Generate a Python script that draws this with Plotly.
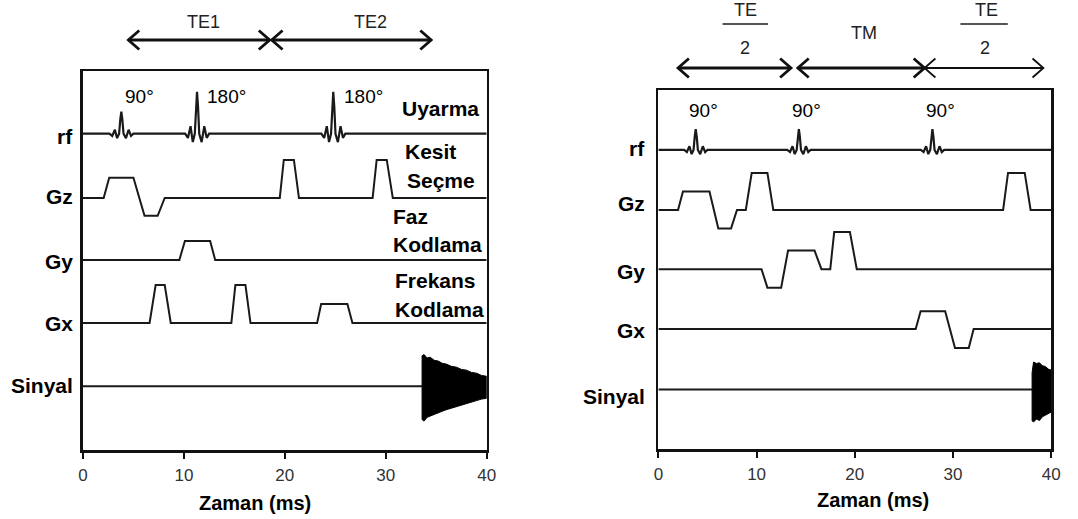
import plotly.graph_objects as go

W, H = 1078, 519

# ======================= DATA =======================
# Time axis (ms)
t_ticks = [0, 10, 20, 30, 40]

# RF pulse sample shape (time offset in ms, relative amplitude)
rf_shape_dt = [-1.18, -0.9, -0.64, -0.42, -0.22, -0.1, 0.0, 0.1, 0.22, 0.46, 0.72, 0.96, 1.2]
rf_shape_v = [0.0, -0.1, 0.18, -0.2, 0.0, 0.65, 1.0, 0.65, 0.0, -0.2, 0.18, -0.1, 0.0]

# ---- Left panel: spin echo ----
L_rf_centre = [3.8, 11.3, 24.8]
L_rf_amp = [0.58, 1.1, 1.1]
L_rf_label = ["90°", "180°", "180°"]

L_gz_t = [0, 2.05, 2.6, 5.0, 6.1, 7.4, 8.1, 19.5, 19.9, 20.9, 21.4, 28.7, 29.1, 30.1, 30.7, 40]
L_gz_a = [0, 0, 0.53, 0.53, -0.47, -0.47, 0, 0, 1.0, 1.0, 0, 0, 1.0, 1.0, 0, 0]

L_gy_t = [0, 9.55, 10.1, 12.6, 13.1, 40]
L_gy_a = [0, 0, 0.5, 0.5, 0, 0]

L_gx_t = [0, 6.6, 7.2, 8.1, 8.7, 14.7, 15.1, 16.1, 16.6, 23.2, 23.6, 26.2, 26.7, 40]
L_gx_a = [0, 0, 1.0, 1.0, 0, 0, 1.0, 1.0, 0, 0, 0.5, 0.5, 0, 0]

L_sig_t = [33.6, 33.8, 34.1, 34.4, 34.8, 35.2, 35.6, 36.0, 36.5, 37.0, 37.5, 38.0, 38.5, 39.0, 39.5, 40.0]
L_sig_up = [0.80, 0.83, 0.74, 0.76, 0.68, 0.66, 0.60, 0.58, 0.52, 0.50, 0.44, 0.42, 0.36, 0.34, 0.28, 0.26]
L_sig_lo = [0.88, 0.92, 0.82, 0.80, 0.74, 0.70, 0.66, 0.62, 0.58, 0.52, 0.50, 0.44, 0.42, 0.38, 0.34, 0.32]

L_arrows = [(4.5, 18.5), (18.7, 34.5)]
L_arrow_labels = ["TE1", "TE2"]

# ---- Right panel: stimulated echo ----
R_rf_centre = [3.8, 14.3, 27.9]
R_rf_amp = [0.56, 0.56, 0.56]
R_rf_label = ["90°", "90°", "90°"]

R_gz_t = [0, 2.0, 2.5, 5.2, 6.1, 7.4, 8.0, 8.9, 9.5, 11.1, 11.7, 35.1, 35.6, 37.3, 37.9, 40]
R_gz_a = [0, 0, 0.5, 0.5, -0.5, -0.5, 0, 0, 1.0, 1.0, 0, 0, 1.0, 1.0, 0, 0]

R_gy_t = [0, 10.5, 11.1, 12.5, 13.2, 15.9, 16.6, 17.5, 17.9, 19.5, 20.2, 40]
R_gy_a = [0, 0, -0.5, -0.5, 0.5, 0.5, 0, 0, 1.0, 1.0, 0, 0]

R_gx_t = [0, 26.2, 26.7, 29.2, 30.2, 31.6, 32.1, 40]
R_gx_a = [0, 0, 0.48, 0.48, -0.51, -0.51, 0, 0]

R_sig_t = [38.05, 38.2, 38.5, 38.8, 39.1, 39.4, 39.7, 40.0]
R_sig_up = [0.45, 0.74, 0.70, 0.72, 0.64, 0.62, 0.55, 0.52]
R_sig_lo = [0.85, 0.88, 0.80, 0.84, 0.74, 0.70, 0.66, 0.61]

R_arrows = [(2.0, 13.5), (14.2, 27.1), (27.1, 39.2)]
R_arrow_labels = ["TE/2", "TM", "TE/2"]

channel_names = ["rf", "Gz", "Gy", "Gx", "Sinyal"]

# ======================= LAYOUT CONSTANTS =======================
NORMAL = "Liberation Sans, Arial, sans-serif"
BOLD = "Liberation Sans, Arial, sans-serif"
LINE = "#1a1a1a"

# baselines of channels (in y units; 1 unit = full gradient amplitude)
L_base = {"rf": 8.32, "Gz": 6.63, "Gy": 5.0, "Gx": 3.34, "Sinyal": 1.68}
L_yrange = [0, 9.97]
R_base = {"rf": 8.08, "Gz": 6.46, "Gy": 4.86, "Gx": 3.24, "Sinyal": 1.61}
R_yrange = [0, 9.7]


def px(x):
    return x / W


def py(y):
    return (H - y) / H


def rf_path(centres, amps, base):
    xs, ys = [0.0], [base]
    for c, a in zip(centres, amps):
        for dt, v in zip(rf_shape_dt, rf_shape_v):
            xs.append(c + dt)
            ys.append(base + a * v)
    xs.append(40.0)
    ys.append(base)
    return xs, ys


fig = go.Figure()


def add_panel(xa, ya, rf_c, rf_a, gz, gy, gx, sig_t, sig_up, sig_lo, base):
    xs, ys = rf_path(rf_c, rf_a, base["rf"])
    fig.add_trace(go.Scatter(x=xs, y=ys, mode="lines", line=dict(color=LINE, width=2.2),
                             xaxis=xa, yaxis=ya, showlegend=False, hoverinfo="skip"))
    for (tt, aa), name in zip([gz, gy, gx], ["Gz", "Gy", "Gx"]):
        fig.add_trace(go.Scatter(x=tt, y=[base[name] + a for a in aa], mode="lines",
                                 line=dict(color=LINE, width=2),
                                 xaxis=xa, yaxis=ya, showlegend=False, hoverinfo="skip"))
    b = base["Sinyal"]
    fig.add_trace(go.Scatter(x=[0, sig_t[0]], y=[b, b], mode="lines",
                             line=dict(color=LINE, width=2),
                             xaxis=xa, yaxis=ya, showlegend=False, hoverinfo="skip"))
    px_ = list(sig_t) + list(reversed(sig_t))
    py_ = [b + u for u in sig_up] + [b - l for l in reversed(sig_lo)]
    px_.append(px_[0])
    py_.append(py_[0])
    fig.add_trace(go.Scatter(x=px_, y=py_, mode="lines", fill="toself", fillcolor="black",
                             line=dict(color="black", width=1),
                             xaxis=xa, yaxis=ya, showlegend=False, hoverinfo="skip"))


add_panel("x", "y", L_rf_centre, L_rf_amp, (L_gz_t, L_gz_a), (L_gy_t, L_gy_a), (L_gx_t, L_gx_a),
          L_sig_t, L_sig_up, L_sig_lo, L_base)
add_panel("x2", "y2", R_rf_centre, R_rf_amp, (R_gz_t, R_gz_a), (R_gy_t, R_gy_a), (R_gx_t, R_gx_a),
          R_sig_t, R_sig_up, R_sig_lo, R_base)

xcommon = dict(range=[0, 40], tickvals=t_ticks, ticktext=[str(v) for v in t_ticks],
               showline=True, mirror=True, linecolor="#111", linewidth=2.5,
               ticks="outside", ticklen=6, tickwidth=2, tickcolor="#111",
               showgrid=False, zeroline=False, fixedrange=True,
               tickfont=dict(family=NORMAL, size=17, color="#333"), ticklabelstandoff=2)
ycommon = dict(showline=True, mirror=True, linecolor="#111", linewidth=2.5,
               showticklabels=False, ticks="", tickvals=[], showgrid=False, zeroline=False,
               fixedrange=True)

fig.update_layout(
    width=W, height=H, margin=dict(l=0, r=0, t=0, b=0),
    paper_bgcolor="white", plot_bgcolor="white",
    xaxis=dict(domain=[px(79), px(488)], anchor="y", **xcommon),
    yaxis=dict(domain=[py(450), py(71)], range=L_yrange, anchor="x", **ycommon),
    xaxis2=dict(domain=[px(662), px(1060)], anchor="y2", **xcommon),
    yaxis2=dict(domain=[py(449), py(90)], range=R_yrange, anchor="x2", **ycommon),
    showlegend=False,
)

ann = []
shapes = []


def text(x, y, s, font, size, xanchor="center", color="black", xref="paper", xshift=0):
    ann.append(dict(x=x, y=y, xref=xref, yref="paper", text=s, showarrow=False,
                    xanchor=xanchor, yanchor="middle", xshift=xshift,
                    font=dict(family=font, size=size, color=color)))


def arrow(xref, x0, x1, y, width, ms_per_px):
    d = 11 * ms_per_px        # chevron depth
    h = 9.5 / H               # chevron half-height
    shapes.append(dict(type="line", xref=xref, yref="paper", x0=x0, x1=x1, y0=y, y1=y,
                       line=dict(color="#111", width=width)))
    for tip, sgn in ((x0, 1), (x1, -1)):
        shapes.append(dict(type="path", xref=xref, yref="paper",
                           path="M %f,%f L %f,%f L %f,%f" % (tip + sgn * d, y + h, tip, y, tip + sgn * d, y - h),
                           line=dict(color="#111", width=width)))


# Left panel annotations
for (a0, a1), lab in zip(L_arrows, L_arrow_labels):
    arrow("x", a0, a1, py(40), 2.8, 40 / 409)
text(px(201), py(22), L_arrow_labels[0], NORMAL, 18, color="#222")
text(px(370), py(22), L_arrow_labels[1], NORMAL, 18, color="#222")
for c, lab, sh in zip(L_rf_centre, L_rf_label, [2, 8, 9]):
    text(c, py(96), lab, NORMAL, 19, xanchor="left", xref="x", xshift=sh)

for name, ypix in zip(channel_names, [137, 196, 261, 323, 385]):
    text(px(71), py(ypix), "<b>%s</b>" % name, BOLD, 21, xanchor="right")

for s, xx, yy in [("Uyarma", 400, 108), ("Kesit", 403, 151), ("Seçme", 405, 181),
                  ("Faz", 391, 216), ("Kodlama", 391, 245),
                  ("Frekans", 393, 280), ("Kodlama", 393, 309)]:
    text(px(xx), py(yy), "<b>%s</b>" % s, BOLD, 21, xanchor="left")

text(px(253), py(503), "<b>Zaman (ms)</b>", BOLD, 20)

# Right panel annotations
arrow("x2", R_arrows[0][0], R_arrows[0][1], py(68), 2.8, 40 / 398)
arrow("x2", R_arrows[1][0], R_arrows[1][1], py(68), 2.8, 40 / 398)
arrow("x2", R_arrows[2][0], R_arrows[2][1], py(68), 1.8, 40 / 398)
text(px(750), py(10), "TE", NORMAL, 18, color="#222")
text(px(750), py(48), "2", NORMAL, 18, color="#222")
text(px(870), py(33), R_arrow_labels[1], NORMAL, 18, color="#222")
text(px(994), py(10), "TE", NORMAL, 18, color="#222")
text(px(993), py(48), "2", NORMAL, 18, color="#222")
for c, lab in zip(R_rf_centre, R_rf_label):
    text(c, py(111), lab, NORMAL, 19, xanchor="center", xref="x2", xshift=8)

for name, ypix in zip(channel_names, [148, 203, 271, 330, 396]):
    text(px(650), py(ypix), "<b>%s</b>" % name, BOLD, 21, xanchor="right")

text(px(879), py(500), "<b>Zaman (ms)</b>", BOLD, 20)

shapes.append(dict(type="line", xref="paper", yref="paper", x0=px(727), x1=px(773), y0=py(24), y1=py(24),
                   line=dict(color="#555", width=2)))
shapes.append(dict(type="line", xref="paper", yref="paper", x0=px(968), x1=px(1016), y0=py(24), y1=py(24),
                   line=dict(color="#555", width=2)))

fig.update_layout(annotations=ann, shapes=shapes)

fig.write_html("out.html", config={"displayModeBar": False, "staticPlot": True})
